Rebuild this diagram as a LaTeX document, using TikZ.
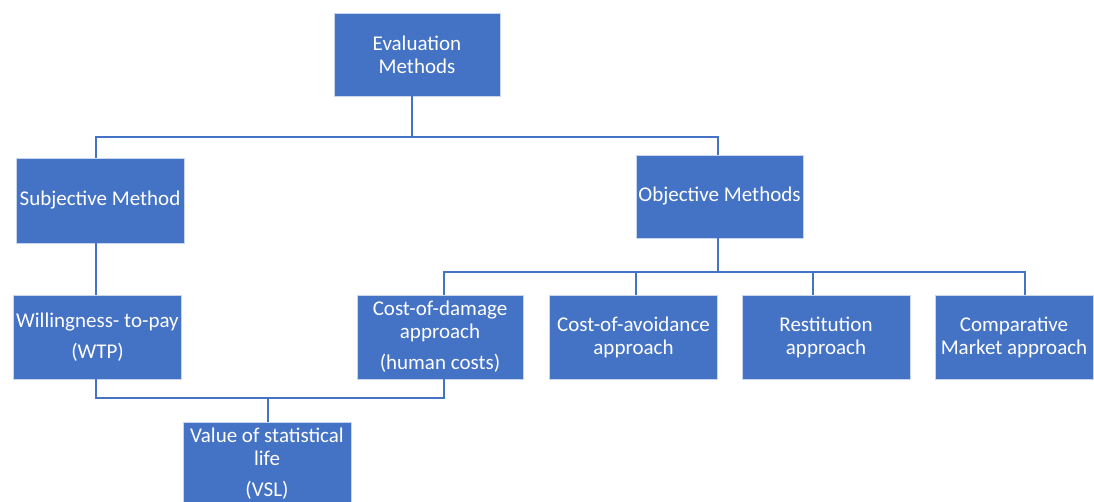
\documentclass[tikz,border=0pt]{standalone}
\usepackage{fontspec}
\setmainfont{Carlito}
\usepackage{xcolor}
\usetikzlibrary{positioning}
\definecolor{boxblue}{HTML}{4472C4}

\begin{document}
\begin{tikzpicture}[
  x=1pt, y=-1pt,
  font=\fontsize{21}{23}\selectfont,
  % ---- box styles ----
  box/.style={draw=white!70!boxblue, fill=boxblue, text=white,
    line width=0.8pt, minimum width=168pt, minimum height=84pt,
    align=center, inner sep=1pt},
  % ---- connector style ----
  conn/.style={draw=boxblue, line width=1.2pt},
]
\useasboundingbox (0,0) rectangle (1094,502);

% ---- boxes ----
\node[box, minimum width=166pt, minimum height=83pt] (eval) at (417,54.5) {Evaluation\\Methods};
\node[box, minimum height=85pt] (subj) at (100,200.5) {Subjective Method};
\node[box, minimum width=167pt, minimum height=83pt] (obj) at (719.5,196.5) {Objective Methods};

\node[box] (wtp)  at (97.5,337) {Willingness- to-pay\\[8pt](WTP)};
\node[box, minimum width=166pt] (cod) at (440,337) {Cost-of-damage\\approach\\[8pt](human costs)};
\node[box] (coa)  at (633.5,337) {Cost-of-avoidance\\approach};
\node[box] (rest) at (826,337) {Restitution\\approach};
\node[box, minimum width=158pt] (comp) at (1014,337) {Comparative\\Market approach};

\node[box] (vsl) at (267,464) {Value of statistical\\life\\[8pt](VSL)};

% ---- top level ----
\coordinate (bus1) at (412,137);
\draw[conn] ([xshift=-5pt]eval.south) -- (bus1);
\draw[conn] ([xshift=-4pt]subj.north) |- (bus1) -| ([xshift=-1.5pt]obj.north);

% ---- subjective branch ----
\draw[conn] ([xshift=-4pt]subj.south) -- ([xshift=-1.5pt]wtp.north);

% ---- objective branch ----
\coordinate (bus2) at (718,272);
\draw[conn] ([xshift=-1.5pt]obj.south) -- (bus2);
\draw[conn] ([xshift=4pt]cod.north) |- (bus2) -| ([xshift=11pt]comp.north);
\draw[conn] ([xshift=2.5pt]coa.north) |- (bus2);
\draw[conn] ([xshift=-13pt]rest.north) |- (bus2);

% ---- VSL ----
\coordinate (bus3) at (268,398);
\draw[conn] ([xshift=-1.5pt]wtp.south) |- (bus3) -| ([xshift=4pt]cod.south);
\draw[conn] (bus3) -- ([xshift=1pt]vsl.north);
\end{tikzpicture}
\end{document}
